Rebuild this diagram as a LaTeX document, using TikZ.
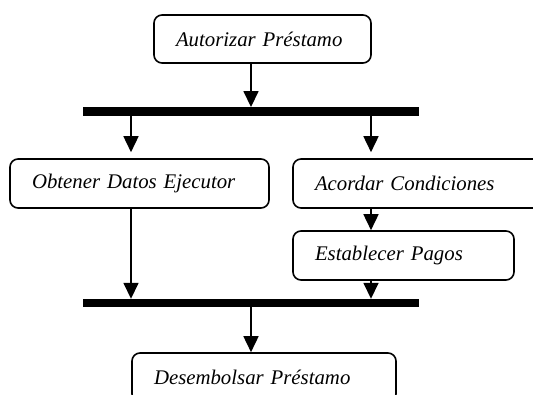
\documentclass[tikz,border=0pt]{standalone}
\usepackage{fontspec}
\setmainfont{Liberation Serif}
\usetikzlibrary{arrows.meta}
\begin{document}
\begin{tikzpicture}[x=1pt,y=-1pt,
  actbox/.style={draw, line width=1.6pt, rounded corners=8pt, fill=white,
    inner xsep=22pt, inner ysep=0pt, align=left,
    font=\fontsize{20.8}{24}\selectfont\itshape, anchor=center},
  syncbar/.style={fill=black, inner sep=0pt, minimum width=336pt, minimum height=8.5pt},
  arr/.style={line width=1.6pt, -{Triangle[width=15pt,length=16pt]}}]
  \clip (0,0) rectangle (533,394);
  \useasboundingbox (0,0) rectangle (533,394);

  % activities
  \node[actbox, text width=173pt, minimum height=48pt] (aut) at (262.5,39) {Autorizar Préstamo};
  \node[actbox, text width=215pt, minimum height=49pt] (obt) at (139.5,183.5) {Obtener Datos Ejecutor};
  \node[actbox, text width=216pt, minimum height=49pt] (aco) at (423,183.5) {Acordar Condiciones};
  \node[actbox, text width=177pt, minimum height=49pt] (est) at (403.5,255.5) {Establecer Pagos};
  \node[actbox, text width=220pt, minimum height=49pt] (des) at (264,377.5) {Desembolsar Préstamo};

  % fork and join bars
  \node[syncbar] (fork) at (251,111.5) {};
  \node[syncbar, minimum height=8pt] (join) at (251,303) {};

  % columns of the flows
  \coordinate (c1) at (131,0);
  \coordinate (c2) at (251,0);
  \coordinate (c3) at (371,0);

  % flows
  \draw[arr] (aut.south -| c2) -- (fork.north -| c2);
  \draw[arr, shorten >=6pt] (fork.south -| c1) -- (obt.north -| c1);
  \draw[arr, shorten >=6pt] (fork.south -| c3) -- (aco.north -| c3);
  \draw[arr] (aco.south -| c3) -- (est.north -| c3);
  \draw[arr] (obt.south -| c1) -- (join.north -| c1);
  \draw[arr] (est.south -| c3) -- (join.north -| c3);
  \draw[arr] (join.south -| c2) -- (des.north -| c2);
\end{tikzpicture}
\end{document}
